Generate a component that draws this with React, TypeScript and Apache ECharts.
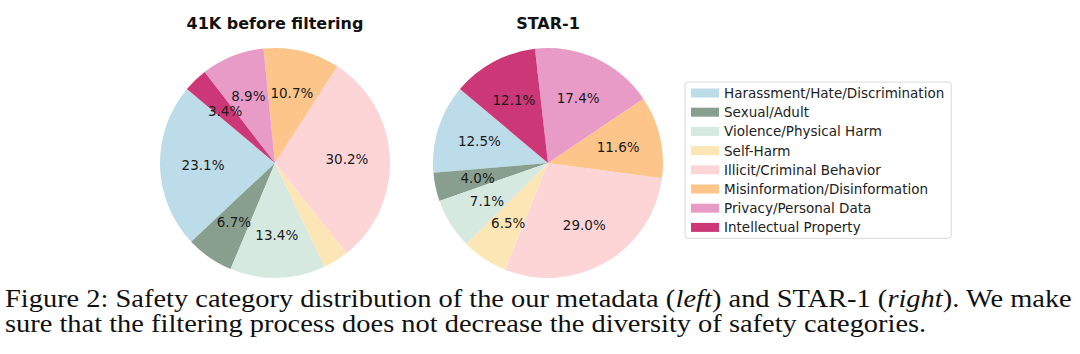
import React, { useEffect, useRef } from "react";
import * as echarts from "echarts";

const categories = [
  "Harassment/Hate/Discrimination",
  "Sexual/Adult",
  "Violence/Physical Harm",
  "Self-Harm",
  "Illicit/Criminal Behavior",
  "Misinformation/Disinformation",
  "Privacy/Personal Data",
  "Intellectual Property",
];
const colors = ["#bcdce9", "#889f90", "#d5e9e0", "#fce6b6", "#fdd5d7", "#fdc58a", "#e99bc8", "#cc3877"];
const before41K = [23.1, 6.7, 13.4, 3.6, 30.2, 10.7, 8.9, 3.4];
const star1 = [12.5, 4.0, 7.1, 6.5, 29.0, 11.6, 17.4, 12.1];
const titles = ["41K before filtering", "STAR-1"];
const captionLine1 = "Figure 2: Safety category distribution of the our metadata ({i|left}) and STAR-1 ({i|right}). We make";
const captionLine2 = "sure that the filtering process does not decrease the diversity of safety categories.";

const FONT = "DejaVu Sans";
const R = 115;
const centers: [number, number][] = [
  [275, 163],
  [548, 163],
];

function pieSeries(values: number[], center: [number, number]) {
  const base = {
    type: "pie",
    center,
    startAngle: 140,
    clockwise: false,
    avoidLabelOverlap: false,
    silent: true,
    labelLine: { show: false },
    emphasis: { disabled: true },
  };
  return [
    {
      ...base,
      radius: [0, R],
      itemStyle: { borderWidth: 0 },
      label: { show: false },
      data: values.map((v, i) => ({ name: categories[i], value: v, itemStyle: { color: colors[i] } })),
    },
    {
      ...base,
      radius: [R * 0.2, R],
      itemStyle: { color: "rgba(0,0,0,0)", borderWidth: 0 },
      label: {
        show: true,
        position: "inside",
        color: "#1a1a1a",
        fontFamily: FONT,
        fontSize: 13.5,
        formatter: (p: any) => p.value.toFixed(1) + "%",
      },
      data: values.map((v, i) => ({ name: "lbl" + i, value: v })),
    },
  ];
}

export default function App() {
  const ref = useRef<HTMLDivElement>(null);
  useEffect(() => {
    const chart = echarts.init(ref.current!, null, { renderer: "svg" });
    chart.setOption({
      animation: false,
      backgroundColor: "#ffffff",
      legend: {
        orient: "vertical",
        left: 685,
        top: 82,
        padding: [4, 7, 4, 6],
        itemWidth: 28,
        itemHeight: 9,
        itemGap: 5.2,
        icon: "rect",
        selectedMode: false,
        borderColor: "#d9d9d9",
        borderWidth: 1,
        borderRadius: 3,
        textStyle: { fontFamily: FONT, fontSize: 13.5, color: "#222", lineHeight: 14 },
        data: categories.map((c, i) => ({ name: c, itemStyle: { color: colors[i] } })),
      },
      graphic: [
        ...titles.map((t, i) => ({
          type: "text",
          x: centers[i][0],
          y: 23,
          style: {
            text: t,
            fontFamily: FONT,
            fontWeight: "bold",
            fontSize: 16,
            fill: "#111",
            textAlign: "center",
            textVerticalAlign: "middle",
          },
        })),
        {
          type: "text",
          x: 5,
          y: 311,
          scaleX: 1.094,
          style: {
            text: captionLine1 + "\n" + captionLine2,
            fontFamily: "Liberation Serif",
            fontSize: 26,
            lineHeight: 25,
            fill: "#111",
            textVerticalAlign: "middle",
            rich: {
              i: { fontFamily: "Liberation Serif", fontSize: 26, fontStyle: "italic", fill: "#111", lineHeight: 25 },
            },
          },
        },
      ],
      series: [...pieSeries(before41K, centers[0]), ...pieSeries(star1, centers[1])],
    });
    return () => chart.dispose();
  }, []);
  return (
    <div
      ref={ref}
      style={{ position: "fixed", left: 0, top: 0, width: 1080, height: 354, background: "#fff" }}
    />
  );
}
